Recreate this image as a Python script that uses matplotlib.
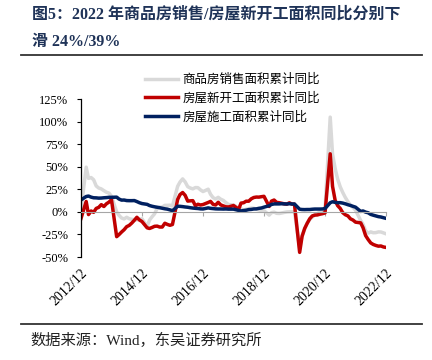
import numpy as np
import pandas as pd
import matplotlib
matplotlib.use('Agg')
import matplotlib.pyplot as plt
import matplotlib.dates as mdates
from matplotlib.lines import Line2D

# months 2012/12 .. 2022/12, cumulative data has no January value
months = pd.date_range('2012-12-01', '2022-12-01', freq='MS')
months = months[months.month != 1]

sales = [1.8,
         49.5, 37.1, 38.0, 35.6, 28.7, 26.4, 25.4, 23.5, 21.8, 20.8, 17.3,
         -0.1, -3.8, -6.8, -7.8, -6.0, -7.6, -8.3, -8.6, -8.9, -8.2, -7.6,
         -16.3, -9.2, -5.4, -2.2, 3.9, 5.1, 5.4, 7.2, 7.2, 7.4, 6.5,
         28.2, 33.1, 36.5, 33.2, 27.9, 26.4, 25.5, 26.9, 26.8, 24.3, 22.5,
         25.1, 19.5, 15.7, 14.3, 16.1, 14.0, 12.7, 10.3, 8.2, 7.9, 7.7,
         4.1, 3.6, 1.3, 2.9, 3.3, 4.2, 4.0, 2.9, 2.2, 1.4, 1.3,
         -3.6, -0.9, -0.3, -1.6, -1.8, -1.3, -0.6, -0.1, 0.1, 0.2, -0.1,
         -39.9, -26.3, -19.3, -12.3, -8.4, -5.8, -3.3, -1.8, 0.0, 1.3, 2.6,
         104.9, 63.8, 48.1, 36.3, 27.7, 21.5, 15.9, 11.3, 7.5, 4.8, 1.9,
         -9.6, -13.8, -20.9, -23.6, -22.2, -23.1, -23.0, -22.2, -22.3, -23.3, -24.3]

new_start = [-7.3,
             11.5, -3.0, 1.0, -0.5, 3.8, 5.0, 8.0, 5.9, 8.9, 10.8, 13.5,
             -27.5, -25.2, -22.3, -19.8, -16.4, -15.0, -12.4, -9.3, -6.0, -9.0, -10.7,
             -17.7, -18.4, -17.3, -16.0, -15.8, -16.8, -16.8, -12.6, -13.9, -14.9, -14.0,
             13.7, 19.2, 21.4, 18.3, 11.9, 12.2, 12.4, 6.8, 8.4, 7.6, 8.1,
             10.4, 11.6, 8.3, 7.6, 10.6, 7.7, 6.6, 5.6, 5.4, 6.2, 7.0,
             2.9, 9.7, 10.1, 11.8, 11.8, 14.4, 15.9, 16.4, 16.3, 16.8, 17.2,
             6.0, 11.9, 13.1, 10.5, 10.1, 9.5, 8.9, 8.6, 10.0, 8.6, 8.5,
             -44.9, -27.2, -18.4, -12.8, -7.6, -4.5, -3.6, -3.4, -2.6, -2.0, -1.2,
             64.3, 28.2, 12.8, 6.9, 3.8, -0.9, -3.2, -4.5, -7.7, -9.1, -11.4,
             -12.2, -17.5, -26.3, -30.6, -34.4, -36.1, -37.2, -38.0, -37.8, -38.9, -39.4]

under_con = [13.2,
             17.0, 17.5, 16.3, 15.6, 15.5, 15.2, 15.3, 15.6, 15.8, 16.1, 16.1,
             16.3, 14.2, 13.0, 13.1, 12.5, 12.4, 12.4, 12.5, 11.4, 10.1, 9.2,
             8.3, 7.0, 6.2, 5.6, 5.1, 4.6, 4.0, 3.4, 3.0, 2.2, 1.3,
             6.2, 6.1, 5.8, 5.4, 5.1, 4.6, 4.2, 3.9, 3.7, 3.3, 3.2,
             4.4, 3.9, 3.6, 3.3, 3.2, 3.2, 3.1, 3.2, 3.0, 3.0, 3.0,
             1.6, 1.0, 1.5, 1.8, 2.5, 2.7, 3.2, 3.3, 3.9, 4.3, 5.2,
             6.8, 8.2, 8.8, 8.8, 8.8, 9.0, 8.8, 8.7, 9.0, 8.7, 8.7,
             2.9, 2.6, 2.5, 2.6, 2.6, 2.9, 3.1, 3.1, 3.1, 3.2, 3.7,
             10.1, 11.2, 10.5, 10.1, 10.2, 9.7, 8.9, 7.9, 7.1, 6.1, 5.2,
             0.5, 1.0, -0.3, -1.0, -2.8, -3.7, -4.5, -5.3, -5.7, -6.5, -7.2]

labels = ['商品房销售面积累计同比', '房屋新开工面积累计同比', '房屋施工面积累计同比']
tick_labels = ['2012/12', '2014/12', '2016/12', '2018/12', '2020/12', '2022/12']

serif = 'Liberation Serif'
cjk = 'Noto Sans CJK SC'

x = mdates.date2num(months)
tick_x = mdates.date2num(pd.to_datetime(tick_labels, format='%Y/%m'))

fig = plt.figure(figsize=(4.32, 3.6), dpi=100)
ax = fig.add_axes([81/432, 1-257/360, 305/432, 158/360])

ax.plot(x, sales, color='#D9D9D9', lw=2.5, label=labels[0])
ax.plot(x, new_start, color='#C00000', lw=2.5, label=labels[1])
ax.plot(x, under_con, color='#002060', lw=2.5, label=labels[2])

ax.set_xlim(x[0], x[-1])
ax.set_ylim(-50, 125)
ax.set_yticks(np.arange(-50, 126, 25))
ax.set_yticklabels([f'{v}%' for v in range(-50, 126, 25)], family=serif, fontsize=9)
ax.tick_params(axis='y', direction='out', length=3, width=0.8, pad=6)

for s in ['top', 'right']:
    ax.spines[s].set_visible(False)
ax.spines['left'].set_linewidth(0.9)
ax.spines['bottom'].set_position(('data', 0))
ax.spines['bottom'].set_color('#A6A6A6')
ax.set_xticks(tick_x)
ax.tick_params(axis='x', direction='out', length=3, color='#A6A6A6', labelbottom=False)

sec = ax.secondary_xaxis('bottom')
sec.spines['bottom'].set_visible(False)
sec.set_xticks(tick_x)
sec.set_xticklabels(tick_labels, rotation=45, ha='right', va='top',
                    rotation_mode='anchor', family=serif, fontsize=10)
sec.tick_params(length=0, pad=7)

ax.legend(loc='upper left', bbox_to_anchor=(145/432, 1-73/360), bbox_transform=fig.transFigure,
          frameon=False, prop={'family': cjk, 'size': 9}, handlelength=2.6,
          handletextpad=0.4, labelspacing=0.45, borderpad=0, borderaxespad=0)

title_kw = dict(family=[serif, cjk], fontsize=11.5, fontweight='bold', color='#1F3358',
                ha='left', va='center')
fig.text(32/432, 1-15/360, '图5：2022 年商品房销售/房屋新开工面积同比分别下', **title_kw)
fig.text(32/432, 1-42/360, '滑 24%/39%', **title_kw)

fig.add_artist(Line2D([21/432, 422/432], [1-55/360]*2, color='#333333', lw=1.3))
fig.add_artist(Line2D([21/432, 422/432], [1-324/360]*2, color='#333333', lw=1.3))

fig.text(30/432, 1-340/360, '数据来源：Wind，东吴证券研究所', family=[serif, cjk],
         fontsize=11, ha='left', va='center', color='#222222')

fig.savefig('out.png', dpi=100)
